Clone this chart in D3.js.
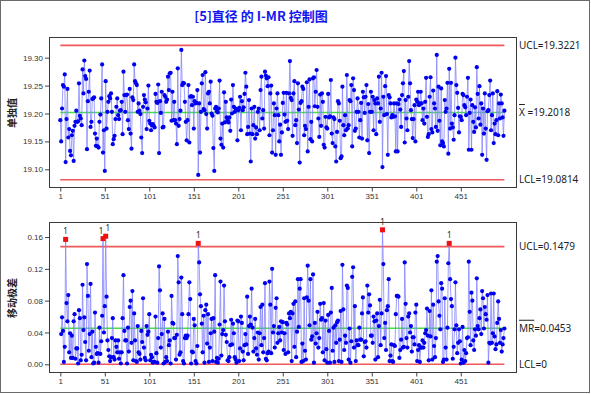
<!DOCTYPE html>
<html><head><meta charset="utf-8">
<script src="https://cdn.jsdelivr.net/npm/d3@7"></script>
<style>
html,body{margin:0;padding:0;background:#fff;}
svg{display:block;font-family:"Noto Sans","DejaVu Sans",sans-serif;}
</style></head>
<body><svg id="c" width="591" height="394"></svg>
<script>
const title = "[5]直径 的 I-MR 控制图";
const yLabelI = "单独值";
const yLabelMR = "移动极差";
const xTicks = [1,51,101,151,201,251,301,351,401,451];
const iTicks = [19.10,19.15,19.20,19.25,19.30];
const mrTicks = [0.00,0.04,0.08,0.12,0.16];
const iLimits = {ucl:19.3221, center:19.2018, lcl:19.0814};
const mrLimits = {ucl:0.1479, center:0.0453, lcl:0};
const individuals = [
19.188,19.150,19.209,19.251,19.248,19.270,19.113,19.190,19.244,19.157,
19.172,19.133,19.125,19.161,19.169,19.115,19.178,19.185,19.205,19.185,
19.186,19.254,19.196,19.191,19.179,19.279,19.236,19.295,19.267,19.262,
19.136,19.222,19.239,19.277,19.176,19.185,19.226,19.227,19.229,19.164,
19.142,19.155,19.141,19.139,19.185,19.198,19.227,19.288,19.130,19.170,
19.097,19.258,19.173,19.203,19.221,19.231,19.227,19.236,19.203,19.145,
19.154,19.160,19.190,19.212,19.227,19.197,19.190,19.205,19.206,19.221,
19.163,19.275,19.233,19.203,19.233,19.234,19.188,19.172,19.244,19.164,
19.137,19.229,19.224,19.288,19.258,19.254,19.251,19.203,19.218,19.205,
19.199,19.157,19.129,19.212,19.233,19.225,19.220,19.172,19.209,19.250,
19.187,19.182,19.170,19.179,19.181,19.178,19.175,19.235,19.221,19.219,
19.252,19.129,19.222,19.201,19.239,19.175,19.176,19.233,19.230,19.221,
19.225,19.266,19.242,19.272,19.273,19.187,19.239,
19.188,19.221,19.188,
19.182,19.145,19.281,19.178,19.190,19.205,19.314,19.251,19.255,19.254,
19.221,19.185,19.152,19.188,19.251,19.148,19.230,19.231,19.215,19.230,
19.173,19.222,19.218,19.219,19.242,19.090,19.218,19.130,19.203,19.254,
19.269,19.208,19.206,19.274,19.199,19.173,19.236,19.239,19.218,19.257,
19.200,19.196,19.138,19.097,19.209,19.212,19.204,19.202,19.209,19.259,
19.155,19.144,19.182,19.139,19.238,19.184,19.221,19.193,19.188,19.184,
19.193,19.169,19.225,19.200,19.251,19.212,19.203,19.209,19.207,19.152,
19.206,19.210,19.230,19.170,19.222,19.206,19.211,19.235,19.273,19.248,
19.163,19.176,19.224,19.164,19.114,19.209,19.163,19.179,19.212,19.155,
19.175,19.163,19.203,19.209,19.170,19.242,19.266,19.191,19.206,19.173,
19.275,19.268,19.263,19.249,19.265,19.161,19.236,19.250,19.130,19.170,
19.218,19.197,19.126,19.209,19.236,19.197,19.150,19.180,
19.126,19.166,19.219,19.237,19.198,19.185,19.237,19.187,19.172,19.236,19.294,19.228,
19.224,19.160,19.236,19.258,19.179,19.188,19.147,19.254,19.207,19.112,
19.219,19.222,19.248,19.244,19.161,19.178,19.172,19.256,19.132,19.212,
19.261,19.154,19.185,19.150,19.263,19.265,19.213,19.239,19.278,19.212,
19.191,19.158,19.234,19.178,19.236,19.221,19.144,19.139,19.194,19.175,
19.173,19.235,19.193,19.195,19.260,19.164,19.147,19.193,19.190,19.141,
19.114,19.167,19.222,19.218,19.187,19.120,19.123,19.248,19.179,19.161,
19.197,19.170,19.269,19.173,19.179,19.224,19.222,19.251,19.141,19.263,
19.242,19.169,19.173,19.203,19.227,19.203,19.157,19.188,19.219,19.155,
19.239,19.229,19.201,19.230,19.251,19.152,19.217,19.129,19.203,19.239,
19.203,19.230,19.170,19.224,19.218,19.163,19.227,19.218,19.266,19.185,
19.209,19.273,19.104,19.230,19.197,19.249,19.267,19.199,19.126,19.233,
19.229,19.218,19.193,19.197,19.194,19.218,19.195,19.132,19.218,19.132,
19.217,19.225,19.207,19.176,19.233,19.254,19.276,19.148,19.224,19.191,
19.170,19.230,19.294,19.254,19.206,19.190,19.156,19.190,19.215,19.150,
19.225,19.221,19.239,19.215,19.218,19.239,19.218,19.188,19.209,19.182,
19.221,19.264,19.194,19.158,19.163,19.230,19.265,19.172,19.166,19.241,
19.218,19.209,19.176,19.305,19.169,19.248,19.187,19.143,19.245,19.150,
19.147,19.141,19.224,19.203,19.209,19.255,19.128,19.280,19.173,19.255,
19.182,19.175,19.153,19.197,19.300,19.251,19.237,
19.210,19.166,19.195,19.194,19.188,19.235,19.233,19.215,19.211,19.197,
19.230,19.264,19.135,19.201,19.225,19.135,19.215,19.185,19.167,19.211,
19.175,19.283,19.235,19.191,19.249,19.180,19.218,19.126,19.209,19.164,
19.236,19.173,19.117,19.204,19.206,19.233,19.259,19.170,19.197,19.236,
19.147,19.182,19.163,19.188,19.240,19.161,19.218,19.191,19.234,19.218,
19.193,19.160,19.205
];
// moving range = |x_i - x_(i-1)|, the statistic plotted in the MR chart
const movingRanges = individuals.map((v,i)=> i===0 ? null : Math.abs(v - individuals[i-1]));

const svg = d3.select("#c");
svg.append("rect").attr("x",0.5).attr("y",0.5).attr("width",589).attr("height",392)
  .attr("fill","#fff").attr("stroke","#6a6a6a").attr("stroke-width",1);

svg.append("text").attr("x",261).attr("y",21).attr("text-anchor","middle")
  .attr("font-family","'Noto Sans CJK SC','Noto Sans',sans-serif")
  .attr("font-weight","bold").attr("font-size",13).attr("fill","#1515f0").text(title);

const frameX0 = 49, frameX1 = 516;
const x = d3.scaleLinear().domain([1,500]).range([60.3,504.4]);

function panel(cfg){
  const {top,bottom,y,data,ticks,fmt,limits,labels,ylab,ylabY} = cfg;
  const g = svg.append("g");
  g.append("rect").attr("x",frameX0+0.5).attr("y",top+0.5)
    .attr("width",frameX1-frameX0).attr("height",bottom-top)
    .attr("fill","#fff").attr("stroke","#3a3a3a").attr("stroke-width",1);
  const ya = g.append("g").attr("transform",`translate(${frameX0},0)`)
    .call(d3.axisLeft(y).tickValues(ticks).tickFormat(fmt).tickSize(4).tickPadding(2));
  ya.select(".domain").remove();
  ya.selectAll("text").attr("font-size",8).attr("fill","#333");
  ya.selectAll("line").attr("stroke","#444");
  const xa = g.append("g").attr("transform",`translate(0,${bottom+0.5})`)
    .call(d3.axisBottom(x).tickValues(xTicks).tickFormat(d3.format("d")).tickSize(4).tickPadding(2));
  xa.select(".domain").remove();
  xa.selectAll("text").attr("font-size",8).attr("fill","#333");
  xa.selectAll("line").attr("stroke","#444");
  const lx0 = x(1), lx1 = x(500);
  [["ucl","#f04848"],["lcl","#f04848"],["center","#30dd30"]].forEach(([k,c])=>{
    g.append("line").attr("x1",lx0).attr("x2",lx1)
      .attr("y1",y(limits[k])).attr("y2",y(limits[k]))
      .attr("stroke",c).attr("stroke-width",k==="center"?1.3:1.6).attr("opacity",0.9);
  });
  const pts = data.map((v,i)=>({i:i+1,v})).filter(d=>d.v!==null);
  g.append("path").datum(pts)
    .attr("d",d3.line().x(d=>x(d.i)).y(d=>y(d.v)))
    .attr("fill","none").attr("stroke","#8080ff").attr("stroke-width",0.9).attr("opacity",0.85);
  const isBad = d=>d.v>limits.ucl || d.v<limits.lcl;
  const normal = pts.filter(d=>!isBad(d));
  const bad = pts.filter(isBad);
  g.selectAll("circle.pt").data(normal).join("circle").attr("class","pt")
    .attr("cx",d=>x(d.i)).attr("cy",d=>y(d.v)).attr("r",2.1).attr("fill","#0000ee");
  g.selectAll("rect.bad").data(bad).join("rect").attr("class","bad")
    .attr("x",d=>x(d.i)-2.5).attr("y",d=>y(d.v)-2.5).attr("width",5).attr("height",5).attr("fill","#ee1111");
  // nudge flags apart when two flagged points sit close together
  const shift = bad.map(()=>0);
  for(let k=1;k<bad.length;k++){
    if(bad[k].i - bad[k-1].i < 6){ shift[k-1] -= 2; shift[k] += 2; }
  }
  g.selectAll("text.flag").data(bad).join("text").attr("class","flag")
    .attr("x",(d,k)=>x(d.i)+shift[k]).attr("y",d=>y(d.v)-5).attr("text-anchor","middle")
    .attr("font-size",8).attr("fill","#222").text("1");
  labels.forEach(l=>{
    const t = g.append("text").attr("x",519).attr("y",y(limits[l.k])+3.5)
      .attr("font-size",10).attr("fill","#222");
    if(l.bar){
      t.append("tspan").attr("text-decoration","overline").text(l.bar);
      t.append("tspan").text(l.rest);
    } else t.text(l.rest);
  });
  svg.append("text").attr("transform",`translate(16,${ylabY}) rotate(-90)`)
    .attr("text-anchor","middle").attr("font-family","'Noto Sans CJK SC',sans-serif")
    .attr("font-weight","bold").attr("font-size",10).attr("fill","#222").text(ylab);
}

const yI = d3.scaleLinear().domain([19.10,19.30]).range([169.3,57.7]);
panel({top:37,bottom:187,y:yI,data:individuals,ticks:iTicks,fmt:d3.format(".2f"),
  limits:iLimits,ylab:yLabelI,ylabY:113,
  labels:[{k:"ucl",rest:"UCL=19.3221"},{k:"center",bar:"X",rest:" =19.2018"},{k:"lcl",rest:"LCL=19.0814"}]});

const yMR = d3.scaleLinear().domain([0,0.16]).range([364.3,237]);
panel({top:222,bottom:372,y:yMR,data:movingRanges,ticks:mrTicks,fmt:d3.format(".2f"),
  limits:mrLimits,ylab:yLabelMR,ylabY:298,
  labels:[{k:"ucl",rest:"UCL=0.1479"},{k:"center",bar:"MR",rest:"=0.0453"},{k:"lcl",rest:"LCL=0"}]});
</script></body></html>
